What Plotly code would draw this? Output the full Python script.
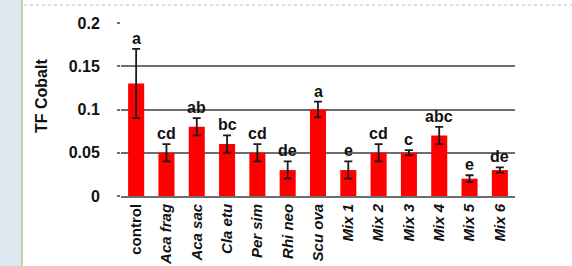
import plotly.graph_objects as go

categories = ["control", "<i>Aca frag</i>", "<i>Aca sac</i>", "<i>Cla etu</i>", "<i>Per sim</i>",
              "<i>Rhi neo</i>", "<i>Scu ova</i>", "<i>Mix 1</i>", "<i>Mix 2</i>", "<i>Mix 3</i>",
              "<i>Mix 4</i>", "<i>Mix 5</i>", "<i>Mix 6</i>"]
values = [0.13, 0.05, 0.08, 0.06, 0.05, 0.03, 0.10, 0.03, 0.05, 0.05, 0.07, 0.02, 0.03]
errors = [0.04, 0.01, 0.01, 0.01, 0.01, 0.01, 0.009, 0.01, 0.01, 0.003, 0.01, 0.004, 0.003]
letters = ["a", "cd", "ab", "bc", "cd", "de", "a", "e", "cd", "c", "abc", "e", "de"]
y_ticks = [0, 0.05, 0.1, 0.15, 0.2]
y_tick_labels = ["0", "0.05", "0.1", "0.15", "0.2"]

W, H = 572, 266
L, R, T, B = 121, 57, 23, 70
pw, ph = W - L - R, H - T - B

fig = go.Figure()
fig.add_trace(go.Bar(
    x=categories, y=values,
    marker=dict(color="#ff0000", line=dict(width=0)),
    width=0.53,
    error_y=dict(type="data", array=errors, visible=True, color="#1a1a1a", thickness=1.8, width=4),
))

for c, v, e, t in zip(categories, values, errors, letters):
    fig.add_annotation(x=c, y=v + e, text="<b>%s</b>" % t, showarrow=False,
                       yanchor="bottom", yshift=0,
                       font=dict(family="Arial", size=16, color="#111111"))

def px_x(p):
    return (p - L) / pw

def px_y(p):
    return (H - B - p) / ph

fig.add_annotation(xref="paper", yref="paper", x=px_x(42), y=px_y(96), text="<b>TF Cobalt</b>",
                   textangle=-90, showarrow=False, xanchor="center", yanchor="middle",
                   font=dict(family="Arial", size=16, color="#111111"))

shapes = [
    dict(type="rect", xref="paper", yref="paper", x0=px_x(0), x1=px_x(21), y0=px_y(H), y1=px_y(0),
         fillcolor="#dde8f1", line=dict(width=0), layer="below"),
    dict(type="line", xref="paper", yref="paper", x0=px_x(22), x1=px_x(22), y0=px_y(H), y1=px_y(0),
         line=dict(color="#b9d99e", width=2)),
    dict(type="line", xref="paper", yref="paper", x0=px_x(24), x1=px_x(W), y0=px_y(5), y1=px_y(5),
         line=dict(color="#c6d8ec", width=1.5, dash="dot")),
]

fig.update_layout(
    width=W, height=H,
    margin=dict(l=L, r=R, t=T, b=B),
    paper_bgcolor="white", plot_bgcolor="white",
    showlegend=False,
    shapes=shapes,
    xaxis=dict(
        tickangle=-90, tickfont=dict(family="Arial", size=15, color="#111111", weight="bold"),
        showline=True, linecolor="#6e6e6e", linewidth=1.8, ticks="", showgrid=False,
        automargin=False,
    ),
    yaxis=dict(
        range=[0, 0.2], tickvals=y_ticks, ticktext=y_tick_labels,
        tickfont=dict(family="Arial", size=16, color="#111111", weight="bold"),
        showgrid=True, gridcolor="#6e6e6e", gridwidth=1.8, zeroline=False,
        showline=False, ticks="outside", ticklen=3, tickcolor="#6e6e6e", tickwidth=1.5,
        ticklabelstandoff=14, automargin=False,
    ),
)

fig.write_html("out.html", config={"displayModeBar": False},
               post_script="document.body.style.margin='0';")
